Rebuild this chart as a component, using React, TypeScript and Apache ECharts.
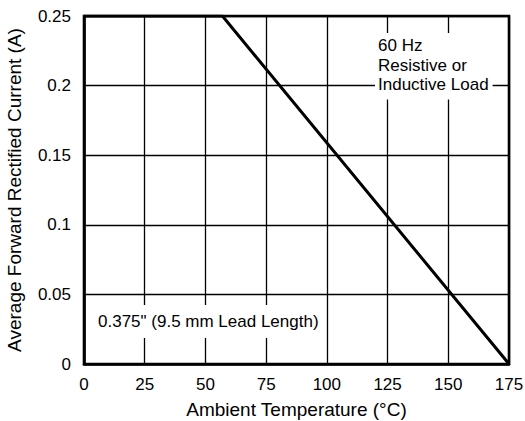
import React, { useEffect, useRef } from "react";
import * as echarts from "echarts";

const xMin = 0;
const xMax = 175;
const xInterval = 25;
const yMin = 0;
const yMax = 0.25;
const yInterval = 0.05;
const yTickLabels = ["0", "0.05", "0.1", "0.15", "0.2", "0.25"];
const deratingCurve: [number, number][] = [
  [0, 0.25],
  [57, 0.25],
  [175, 0],
];
const xName = "Ambient Temperature (°C)";
const yName = "Average Forward Rectified Current (A)";
const noteLoad = "60 Hz\nResistive or\nInductive Load";
const noteLead = '0.375" (9.5 mm Lead Length)';

const FONT = '"Liberation Sans", Arial, Helvetica, sans-serif';

export default function App() {
  const ref = useRef<HTMLDivElement>(null);
  useEffect(() => {
    document.body.style.margin = "0";
    const chart = echarts.init(ref.current!, null, { renderer: "svg" });
    chart.setOption({
      animation: false,
      backgroundColor: "#ffffff",
      grid: {
        left: 84,
        right: 16,
        top: 16,
        bottom: 57,
        containLabel: false,
        outerBoundsMode: "none",
        show: true,
        borderColor: "#000",
        borderWidth: 2.6,
        backgroundColor: "transparent",
      },
      xAxis: {
        type: "value",
        min: xMin,
        max: xMax,
        interval: xInterval,
        name: xName,
        nameLocation: "middle",
        nameGap: 36,
        nameTextStyle: { fontFamily: FONT, fontSize: 19, color: "#000" },
        axisLine: { show: true, lineStyle: { color: "#000", width: 2.6 } },
        axisTick: { show: false },
        axisLabel: { fontFamily: FONT, fontSize: 17, color: "#000", margin: 12 },
        splitLine: { show: true, lineStyle: { color: "#000", width: 1.3 } },
      },
      yAxis: {
        type: "value",
        min: yMin,
        max: yMax,
        interval: yInterval,
        name: yName,
        nameLocation: "middle",
        nameGap: 60,
        nameTextStyle: { fontFamily: FONT, fontSize: 19, color: "#000" },
        axisLine: { show: true, lineStyle: { color: "#000", width: 2.6 } },
        axisTick: { show: false },
        axisLabel: {
          fontFamily: FONT,
          fontSize: 17,
          color: "#000",
          margin: 13,
          formatter: (_v: number, i: number) => yTickLabels[i],
        },
        splitLine: { show: true, lineStyle: { color: "#000", width: 1.3 } },
      },
      series: [
        {
          type: "line",
          data: deratingCurve,
          symbol: "none",
          lineStyle: { color: "#000", width: 3 },
          z: 3,
        },
      ],
      graphic: [
        {
          type: "text",
          left: 375,
          top: 33,
          z: 10,
          style: {
            text: noteLoad,
            font: `17px ${FONT}`,
            fill: "#000",
            lineHeight: 19.5,
            backgroundColor: "#fff",
            padding: [3, 4, 5, 3],
          },
        },
        {
          type: "text",
          left: 94,
          top: 305,
          z: 10,
          style: {
            text: noteLead,
            font: `17px ${FONT}`,
            fill: "#000",
            backgroundColor: "#fff",
            padding: [8, 4, 8, 4],
          },
        },
      ],
    });
    return () => chart.dispose();
  }, []);
  return (
    <div
      ref={ref}
      style={{ position: "absolute", left: 0, top: 0, width: 525, height: 421 }}
    />
  );
}
